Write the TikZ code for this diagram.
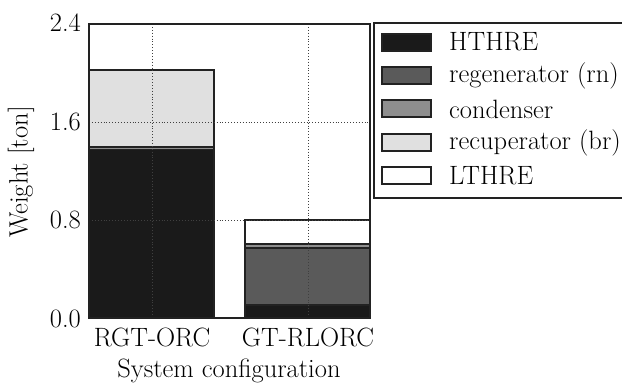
\documentclass[tikz,border=0pt]{standalone}
\usepackage{fontspec}
\definecolor{hthre}{HTML}{1A1A1A}
\definecolor{regen}{HTML}{5A5A5A}
\definecolor{cond}{HTML}{8E8E8E}
\definecolor{recup}{HTML}{E0E0E0}
\definecolor{lthre}{HTML}{FFFFFF}
\definecolor{edge}{HTML}{222222}
\begin{document}
\begin{tikzpicture}[x=1pt,y=-1pt,
  seg/.style={draw=edge,line width=1.3pt},
  gridline/.style={draw=black!75,dotted,line width=0.9pt},
  frame/.style={draw=edge,line width=1.6pt},
  lbl/.style={font=\fontsize{26.5}{30}\selectfont,inner sep=0pt},
  tick/.style={lbl,anchor=east},
  legtxt/.style={lbl,anchor=west},
  swatch/.style={draw=edge,line width=1.3pt}]
\useasboundingbox (0,0) rectangle (622,383);
\fill[white] (0,0) rectangle (622,383);
% bar 1 RGT-ORC (y = 318 - 122.5*value)
\filldraw[seg,fill=hthre] (89,318) rectangle (214,149.5);
\filldraw[seg,fill=cond] (214,149.5) rectangle (89,147);
\filldraw[seg,fill=recup] (89,147) rectangle (214,70);
% bar 2 GT-RLORC
\filldraw[seg,fill=hthre] (245,318) rectangle (370,305);
\filldraw[seg,fill=regen] (245,305) rectangle (370,248);
\filldraw[seg,fill=cond] (245,248) rectangle (370,244);
\filldraw[seg,fill=lthre] (245,244) rectangle (370,220);
% grid
\draw[gridline] (152,24) -- (152,318);
\draw[gridline] (308,24) -- (308,318);
\draw[gridline] (89,122) -- (370,122);
\draw[gridline] (89,220) -- (370,220);
% frame
\draw[frame] (89,24) rectangle (370,318);
% ticks
\node[tick] (t0) at (81,319) {0.0};
\node[tick] (t1) at (81,220) {0.8};
\node[tick] (t2) at (81,122) {1.6};
\node[tick] (t3) at (81,23) {2.4};
\node[lbl] (c1) at (152,337) {RGT-ORC};
\node[lbl] (c2) at (308,337) {GT-RLORC};
\node[lbl] (xl) at (229,371) {System configuration};
\node[lbl,rotate=90] (yl) at (21,172) {Weight [ton]};
% legend
\draw[frame] (624,23) -- (374,23) -- (374,198) -- (624,198);
\filldraw[swatch,fill=hthre] (382,34) rectangle (431,51);
\filldraw[swatch,fill=regen] (382,67) rectangle (431,84);
\filldraw[swatch,fill=cond] (382,100) rectangle (431,117);
\filldraw[swatch,fill=recup] (382,134) rectangle (431,151);
\filldraw[swatch,fill=lthre] (382,167) rectangle (431,184);
\node[legtxt] (l1) at (449,42) {HTHRE};
\node[legtxt] (l2) at (449,76) {regenerator (rn)};
\node[legtxt] (l3) at (449,109) {condenser};
\node[legtxt] (l4) at (449,143) {recuperator (br)};
\node[legtxt] (l5) at (449,176) {LTHRE};
\end{tikzpicture}
\end{document}
